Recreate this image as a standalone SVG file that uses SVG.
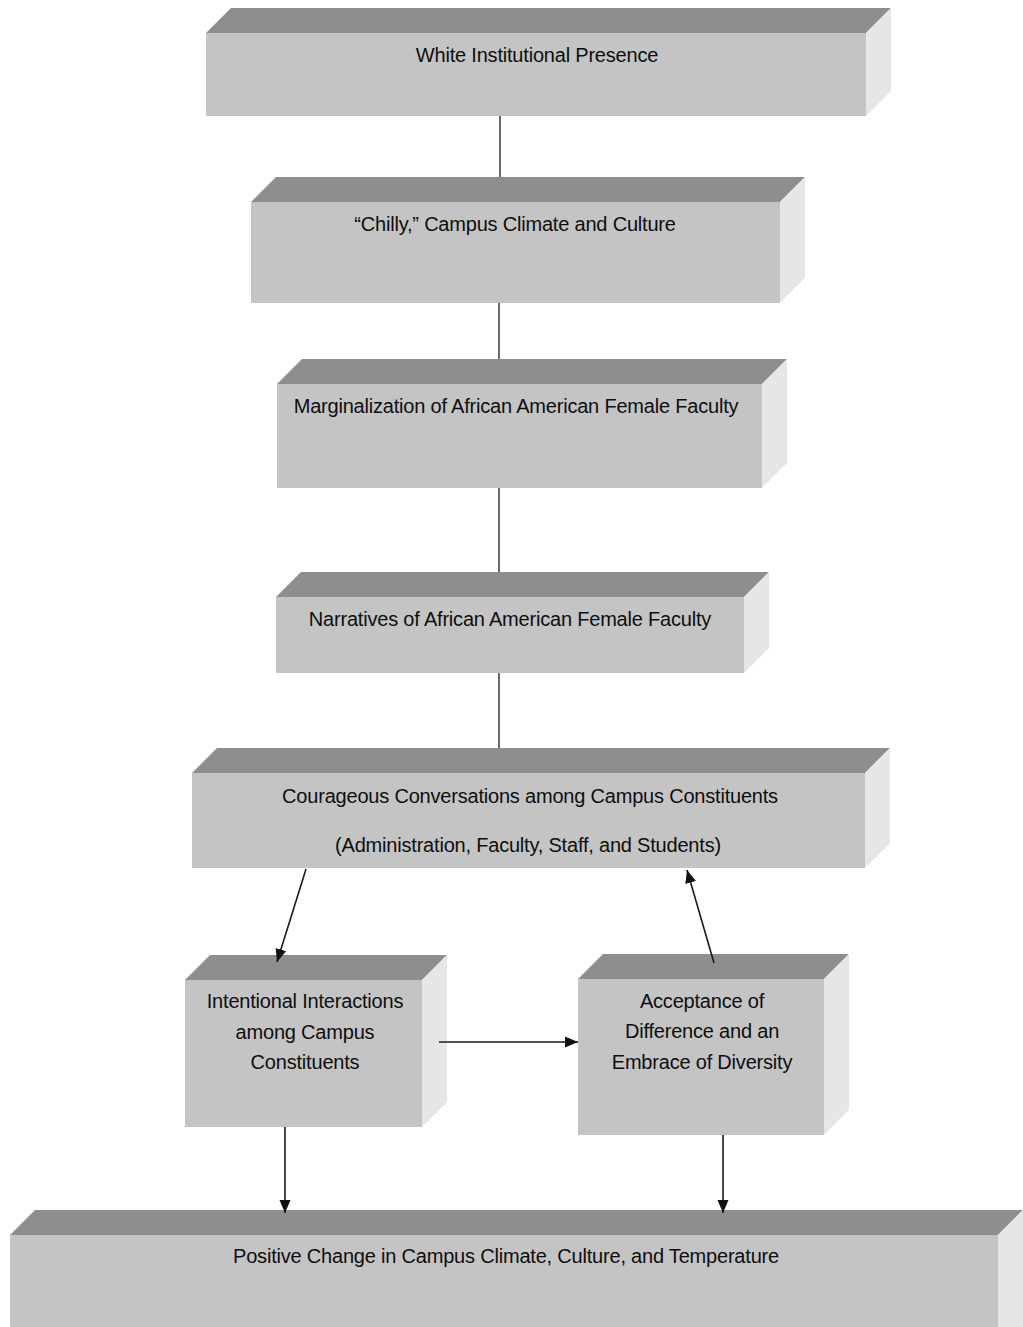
<svg xmlns="http://www.w3.org/2000/svg" width="1023" height="1327" viewBox="0 0 1023 1327">
<style>
.top{fill:#8e8e8e}
.front{fill:#c4c4c4}
.side{fill:#e6e6e6}
.lbl{font-family:"Liberation Sans",Arial,sans-serif;font-size:20px;fill:#0e0e0e;text-anchor:middle;letter-spacing:-0.2px}
.ln{stroke:#1a1a1a;stroke-width:1.3;fill:none}
.ar{stroke:#1a1a1a;stroke-width:1.6;fill:none;marker-end:url(#ah)}
</style>
<defs>
<marker id="ah" markerUnits="userSpaceOnUse" markerWidth="14" markerHeight="12" refX="13" refY="5.5" orient="auto">
<path d="M0,0 L13,5.5 L0,11 Z" fill="#111"/>
</marker>
</defs>
<rect width="1023" height="1327" fill="#ffffff"/>

<g id="node-white-institutional-presence">
<polygon class="top" points="206,33 231,8 891,8 866,33"/>
<polygon class="side" points="866,33 891,8 891,91 866,116"/>
<rect class="front" x="206" y="33" width="660" height="83"/>
<text class="lbl" x="537" y="62">White Institutional Presence</text>
</g>

<g id="node-chilly-climate">
<polygon class="top" points="251,202 276,177 805,177 780,202"/>
<polygon class="side" points="780,202 805,177 805,278 780,303"/>
<rect class="front" x="251" y="202" width="529" height="101"/>
<text class="lbl" x="515" y="231">“Chilly,” Campus Climate and Culture</text>
</g>

<g id="node-marginalization">
<polygon class="top" points="277,384 302,359 787,359 762,384"/>
<polygon class="side" points="762,384 787,359 787,463 762,488"/>
<rect class="front" x="277" y="384" width="485" height="104"/>
<text class="lbl" x="516" y="413">Marginalization of African American Female Faculty</text>
</g>

<g id="node-narratives">
<polygon class="top" points="276,597 301,572 769,572 744,597"/>
<polygon class="side" points="744,597 769,572 769,648 744,673"/>
<rect class="front" x="276" y="597" width="468" height="76"/>
<text class="lbl" x="510" y="626">Narratives of African American Female Faculty</text>
</g>

<g id="node-courageous-conversations">
<polygon class="top" points="192,773 217,748 890,748 865,773"/>
<polygon class="side" points="865,773 890,748 890,843 865,868"/>
<rect class="front" x="192" y="773" width="673" height="95"/>
<text class="lbl" x="530" y="803">Courageous Conversations among Campus Constituents</text>
<text class="lbl" x="528" y="852">(Administration, Faculty, Staff, and Students)</text>
</g>

<g id="node-intentional-interactions">
<polygon class="top" points="185,980 210,955 447,955 422,980"/>
<polygon class="side" points="422,980 447,955 447,1102 422,1127"/>
<rect class="front" x="185" y="980" width="237" height="147"/>
<text class="lbl" x="305" y="1008">Intentional Interactions</text>
<text class="lbl" x="305" y="1039">among Campus</text>
<text class="lbl" x="305" y="1069">Constituents</text>
</g>

<g id="node-acceptance">
<polygon class="top" points="578,979 603,954 849,954 824,979"/>
<polygon class="side" points="824,979 849,954 849,1110 824,1135"/>
<rect class="front" x="578" y="979" width="246" height="156"/>
<text class="lbl" x="702" y="1008">Acceptance of</text>
<text class="lbl" x="702" y="1038">Difference and an</text>
<text class="lbl" x="702" y="1069">Embrace of Diversity</text>
</g>

<g id="node-positive-change">
<polygon class="top" points="10,1235 35,1210 1023,1210 998,1235"/>
<polygon class="side" points="998,1235 1023,1210 1023,1327 998,1327"/>
<rect class="front" x="10" y="1235" width="988" height="92"/>
<text class="lbl" x="506" y="1263">Positive Change in Campus Climate, Culture, and Temperature</text>
</g>

<g id="connectors">
<line class="ln" x1="500" y1="116" x2="500" y2="177"/>
<line class="ln" x1="499" y1="303" x2="499" y2="359"/>
<line class="ln" x1="499" y1="488" x2="499" y2="572"/>
<line class="ln" x1="499" y1="673" x2="499" y2="748"/>
<line class="ar" x1="306" y1="869" x2="277" y2="962"/>
<line class="ar" x1="714" y1="963" x2="687" y2="870"/>
<line class="ar" x1="439" y1="1042" x2="578" y2="1042"/>
<line class="ar" x1="285" y1="1127" x2="285" y2="1213"/>
<line class="ar" x1="723" y1="1135" x2="723" y2="1213"/>
</g>
</svg>
